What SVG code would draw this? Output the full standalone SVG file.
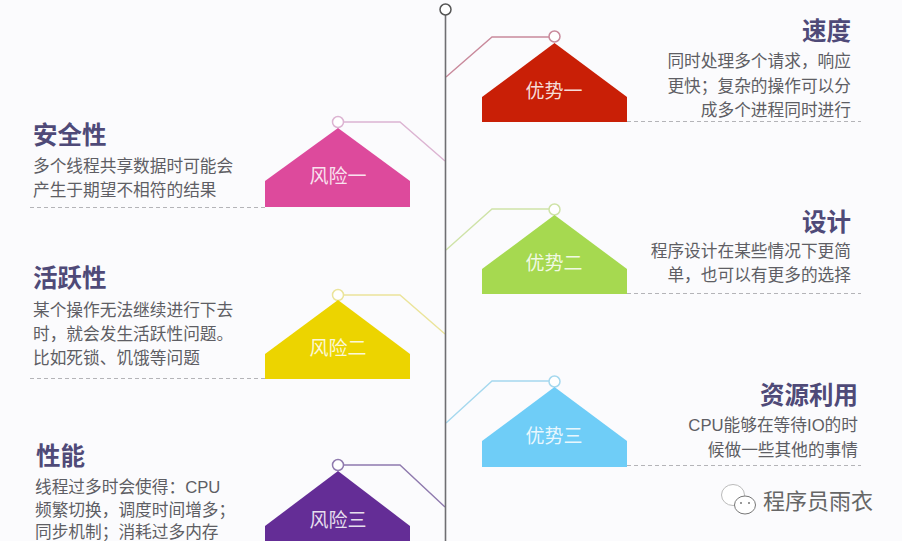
<svg xmlns="http://www.w3.org/2000/svg" width="902" height="541" viewBox="0 0 902 541">
<style>
text{font-family:"Liberation Sans","Noto Sans CJK SC",sans-serif}
.t{font-size:24.500px;font-weight:700;fill:#4f4a78;font-family:"Noto Sans CJK SC",sans-serif}
.d{font-size:16.700px;fill:#5e5e64;font-family:"Liberation Sans","Noto Sans CJK SC",sans-serif}
.e{text-anchor:end}
.n{font-size:19px;fill:#fff;fill-opacity:.85;text-anchor:middle;font-family:"Noto Sans CJK SC",sans-serif}
.dash{stroke:#b4b4b8;stroke-width:1;stroke-dasharray:4 3;fill:none}
.c{fill:#fff;stroke-width:1.5}
.l{fill:none;stroke-width:1.4}
</style>
<rect width="902" height="541" fill="#fbfbfd"/>
<g id="connectors">
<path class="l" stroke="#c98a9c" d="M446 77L492 37H549"/>
<path class="l" stroke="#dcb4d2" d="M344 122H400L445 161"/>
<path class="l" stroke="#cfe3a8" d="M446 250L492 209H549"/>
<path class="l" stroke="#ebe49a" d="M344 295H400L445 334"/>
<path class="l" stroke="#a5d8ee" d="M446 423L492 381H549"/>
<path class="l" stroke="#8f7aae" d="M344 465H400L445 507"/>
<path class="dash" d="M627 121.500H861M30 207.500H265M627 293.500H861M30 378.500H265M627 465.500H861"/>
<line x1="445.500" y1="15" x2="445.500" y2="541" stroke="#6e6e72" stroke-width="1.600"/>
</g>
<g id="timeline-start"><circle cx="445.500" cy="9.500" r="5.500" fill="#fff" stroke="#555" stroke-width="1.500"/></g>
<g id="advantage-1">
<circle class="c" cx="554.500" cy="36.500" r="5.500" stroke="#c98a9c"/>
<path fill="#c91f06" d="M554.500 43L627 97V122H482V97Z"/>
<text class="n" x="554" y="98">优势一</text>
<text class="t e" x="851" y="40">速度</text>
<text class="d e" x="851" y="67">同时处理多个请求，响应</text>
<text class="d e" x="851" y="92">更快；复杂的操作可以分</text>
<text class="d e" x="851" y="116">成多个进程同时进行</text>
</g>
<g id="risk-1">
<circle class="c" cx="338" cy="122" r="5.500" stroke="#dcb4d2"/>
<path fill="#dd4a9c" d="M338 128L410 181V207H265V181Z"/>
<text class="n" x="338" y="183">风险一</text>
<text class="t" x="33" y="144">安全性</text>
<text class="d" x="33" y="172">多个线程共享数据时可能会</text>
<text class="d" x="33" y="196">产生于期望不相符的结果</text>
</g>
<g id="advantage-2">
<circle class="c" cx="554.500" cy="209.500" r="5.500" stroke="#cfe3a8"/>
<path fill="#a6d950" d="M554.500 215L627 269V294H482V269Z"/>
<text class="n" x="554" y="270">优势二</text>
<text class="t e" x="851" y="231">设计</text>
<text class="d e" x="851" y="257">程序设计在某些情况下更简</text>
<text class="d e" x="851" y="281">单，也可以有更多的选择</text>
</g>
<g id="risk-2">
<circle class="c" cx="338" cy="295" r="5.500" stroke="#ebe49a"/>
<path fill="#ecd400" d="M338 300L410 354V379H265V354Z"/>
<text class="n" x="338" y="355">风险二</text>
<text class="t" x="33" y="287">活跃性</text>
<text class="d" x="33" y="316">某个操作无法继续进行下去</text>
<text class="d" x="33" y="340">时，就会发生活跃性问题。</text>
<text class="d" x="33" y="364">比如死锁、饥饿等问题</text>
</g>
<g id="advantage-3">
<circle class="c" cx="554.500" cy="381.500" r="5.500" stroke="#a5d8ee"/>
<path fill="#6fcdf7" d="M554.500 387L627 441V467H482V441Z"/>
<text class="n" x="554" y="443">优势三</text>
<text class="t e" x="858" y="404">资源利用</text>
<text class="d e" x="858" y="431">CPU能够在等待IO的时</text>
<text class="d e" x="858" y="456">候做一些其他的事情</text>
</g>
<g id="risk-3">
<circle class="c" cx="338" cy="465" r="5.500" stroke="#8f7aae"/>
<path fill="#642d96" d="M338 471L410 526V541H265V526Z"/>
<text class="n" x="338" y="527">风险三</text>
<text class="t" x="36" y="465">性能</text>
<text class="d" x="35" y="493">线程过多时会使得：CPU</text>
<text class="d" x="35" y="516">频繁切换，调度时间增多；</text>
<text class="d" x="35" y="538">同步机制；消耗过多内存</text>
</g>
<g id="watermark">
<ellipse cx="733" cy="495" rx="11.500" ry="10.500" fill="#fff" stroke="#bbb"/>
<ellipse cx="745" cy="505" rx="10.500" ry="9" fill="#fff" stroke="#777"/>
<circle cx="741" cy="503" r="1" fill="#777"/><circle cx="749" cy="503" r="1" fill="#777"/>
<text x="763" y="509" font-size="22" fill="#666" style="font-family:'Noto Sans CJK SC',sans-serif">程序员雨衣</text>
</g>
</svg>
